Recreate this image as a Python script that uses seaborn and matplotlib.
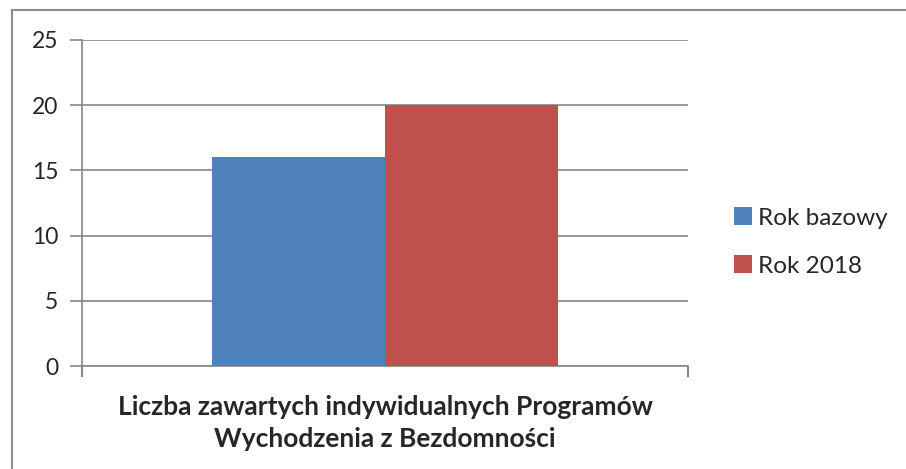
import pandas as pd
import matplotlib
matplotlib.use('Agg')
import matplotlib.pyplot as plt
from matplotlib.patches import Rectangle
import seaborn as sns

categories = ['Liczba zawartych indywidualnych Programów\nWychodzenia z Bezdomności']
series = ['Rok bazowy', 'Rok 2018']
values = [16, 20]
colors = ['#4F81BD', '#C0504D']
y_ticks = [0, 5, 10, 15, 20, 25]

df = pd.DataFrame({'Kategoria': categories * len(series), 'Seria': series, 'Wartosc': values})

sns.set_theme(style='white')
plt.rcParams['font.family'] = ['Lato', 'DejaVu Sans']

fig = plt.figure(figsize=(9.06, 4.69), dpi=100)
ax = fig.add_axes([82 / 906, 1 - 366 / 469, (688 - 82) / 906, (366 - 40) / 469])

sns.barplot(data=df, x='Kategoria', y='Wartosc', hue='Seria', palette=colors,
            width=0.57, saturation=1, linewidth=0, edgecolor='none', ax=ax, zorder=3)

grid_c = '#868686'
ax.set_xlim(-0.5, 0.5)
ax.set_ylim(0, 25)
ax.set_yticks(y_ticks)
ax.yaxis.grid(True, color=grid_c, linewidth=1.2, zorder=0)
ax.set_axisbelow(True)
for s in ['top', 'right']:
    ax.spines[s].set_visible(False)
for s in ['left', 'bottom']:
    ax.spines[s].set_color(grid_c)
    ax.spines[s].set_linewidth(1.2)

ax.tick_params(axis='y', length=9, width=1.2, color=grid_c, direction='out',
               labelsize=16.5, pad=8, left=True)
ax.tick_params(axis='x', which='major', length=0, labelsize=19, pad=21)
ax.set_xticks([-0.5, 0.5], minor=True)
ax.tick_params(axis='x', which='minor', length=8, width=1.5, color=grid_c,
               direction='out', bottom=True)
for lbl in ax.get_xticklabels():
    lbl.set_fontweight('bold')
    lbl.set_linespacing(1.38)
ax.set_xlabel('')
ax.set_ylabel('')

ax.legend(loc='center left', bbox_to_anchor=(712 / 906, 1 - 242 / 469),
          bbox_transform=fig.transFigure, frameon=False, fontsize=17.5,
          handlelength=0.75, handleheight=0.75, handletextpad=0.25, labelspacing=1.1)

# ramka wykresu (widoczna lewa i gorna krawedz)
fig.patches.append(Rectangle((12 / 906, -0.1), 1.2, 1 - 10 / 469 + 0.1,
                             transform=fig.transFigure, fill=False,
                             edgecolor='#8c8c8c', linewidth=1.5))

fig.savefig('out.png', dpi=100)
